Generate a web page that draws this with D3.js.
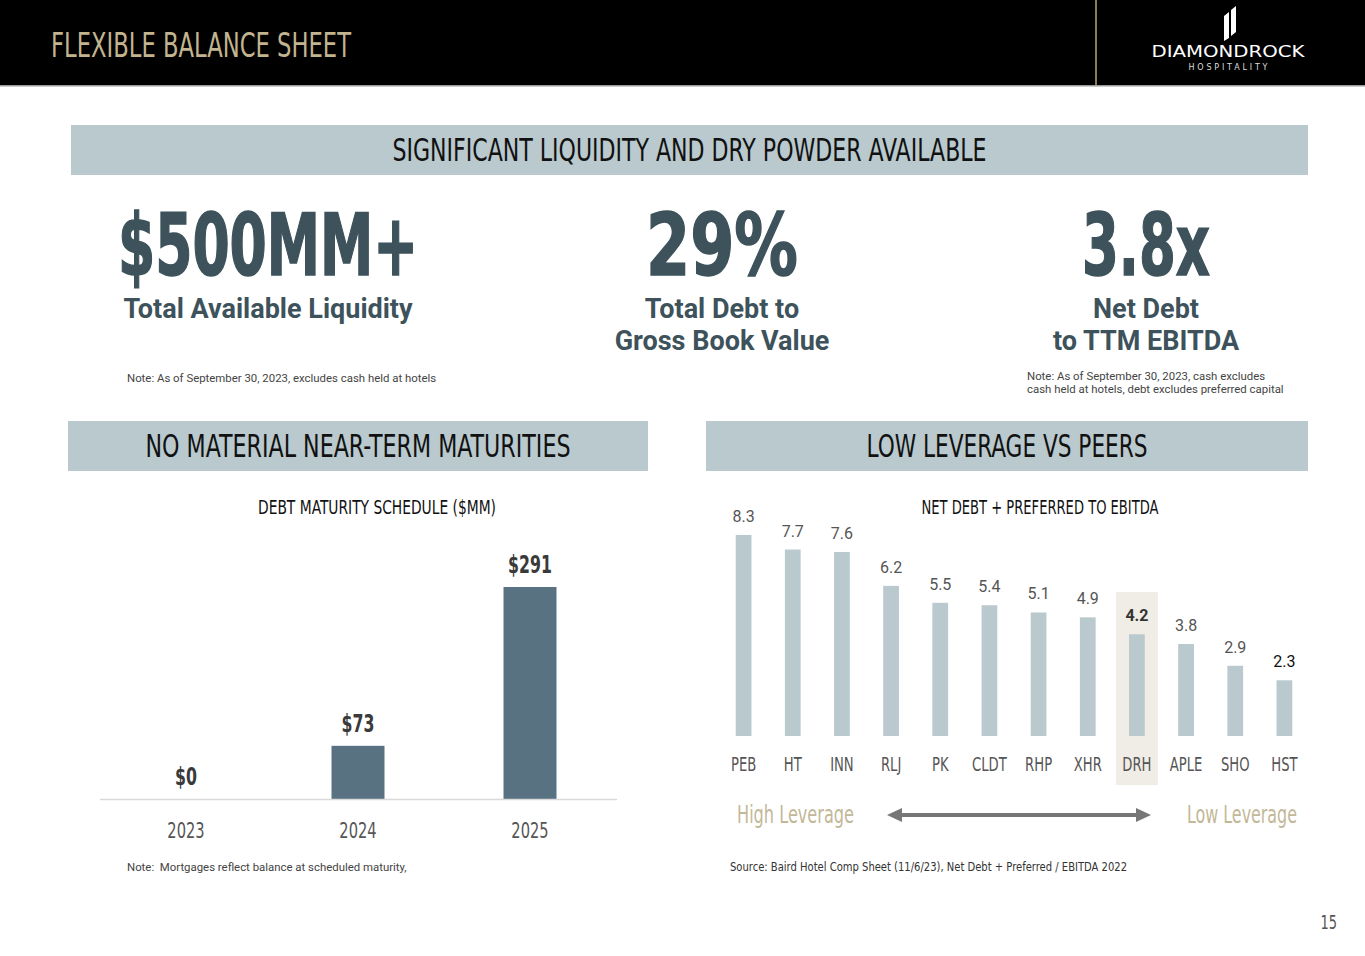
<!DOCTYPE html>
<html>
<head>
<meta charset="utf-8">
<script src="https://cdn.jsdelivr.net/npm/d3@7"></script>
<style>
  html, body { margin: 0; padding: 0; background: #fff; }
  svg { display: block; }
  .cond { font-family: "Liberation Sans Narrow", "DejaVu Sans Condensed", "Roboto", sans-serif; font-stretch: condensed; }
  .rob { font-family: "Roboto", "Liberation Sans", sans-serif; }
</style>
</head>
<body>
<svg id="chart" width="1365" height="956"></svg>
<script>
// ---- Data ----
const maturityYears = ["2023", "2024", "2025"];
const maturityValues = [0, 73, 291];
const maturityLabels = ["$0", "$73", "$291"];

const peerTickers = ["PEB", "HT", "INN", "RLJ", "PK", "CLDT", "RHP", "XHR", "DRH", "APLE", "SHO", "HST"];
const peerValues = [8.3, 7.7, 7.6, 6.2, 5.5, 5.4, 5.1, 4.9, 4.2, 3.8, 2.9, 2.3];
const highlightTicker = "DRH";

const kpiValues = ["$500MM+", "29%", "3.8x"];
const kpiCaptions = [["Total Available Liquidity"], ["Total Debt to", "Gross Book Value"], ["Net Debt", "to TTM EBITDA"]];

// ---- Drawing ----
const svg = d3.select("#chart");
const COND = "cond";

// squeeze text horizontally by a factor (to mimic a condensed typeface)
function squeeze(sel, f) {
  sel.each(function () {
    const w = this.getComputedTextLength();
    d3.select(this).attr("textLength", w * f).attr("lengthAdjust", "spacingAndGlyphs");
  });
  return sel;
}

// Header band
svg.append("rect").attr("x", 0).attr("y", 0).attr("width", 1365).attr("height", 85).attr("fill", "#000");
svg.append("rect").attr("x", 0).attr("y", 85).attr("width", 1365).attr("height", 1.5).attr("fill", "#9a9a9a");
svg.append("rect").attr("x", 1095).attr("y", 0).attr("width", 2).attr("height", 85).attr("fill", "#8a7d5a");
svg.append("text").attr("class", COND).attr("x", 51).attr("y", 57)
  .attr("font-size", 33).attr("fill", "#c2b48f").attr("textLength", 300).attr("lengthAdjust", "spacingAndGlyphs")
  .text("FLEXIBLE BALANCE SHEET");

// Logo
const logo = svg.append("g");
logo.append("path").attr("d", "M1224,16 L1229,12 L1229,38 L1224,41 Z").attr("fill", "#fff");
logo.append("path").attr("d", "M1231,10 L1236,6 L1236,32 L1231,36 Z").attr("fill", "#fff");
logo.append("text").attr("x", 1228).attr("y", 57).attr("text-anchor", "middle")
  .attr("font-family", "DejaVu Sans, sans-serif").attr("font-size", 15).attr("fill", "#fff")
  .attr("textLength", 153).attr("lengthAdjust", "spacingAndGlyphs").text("DIAMONDROCK");
logo.append("text").attr("x", 1228).attr("y", 69.5).attr("text-anchor", "middle")
  .attr("font-family", "DejaVu Sans, sans-serif").attr("font-size", 8).attr("fill", "#ddd")
  .attr("textLength", 79).attr("lengthAdjust", "spacing").text("HOSPITALITY");

// Banners
function banner(x, y, w, h, label, tl) {
  svg.append("rect").attr("x", x).attr("y", y).attr("width", w).attr("height", h).attr("fill", "#b9c9cd");
  svg.append("text").attr("class", COND).attr("x", x + w / 2).attr("y", y + 36)
    .attr("text-anchor", "middle").attr("font-size", 32).attr("fill", "#111")
    .attr("textLength", tl).attr("lengthAdjust", "spacingAndGlyphs").text(label);
}
banner(71, 125, 1237, 50, "SIGNIFICANT LIQUIDITY AND DRY POWDER AVAILABLE", 594);
banner(68, 421, 580, 50, "NO MATERIAL NEAR-TERM MATURITIES", 425);
banner(706, 421, 602, 50, "LOW LEVERAGE VS PEERS", 281);

// KPIs
const kpiX = [268, 722, 1146];
const kpiW = [300, 152, 128];
kpiValues.forEach((v, i) => {
  svg.append("text").attr("class", COND).attr("x", kpiX[i]).attr("y", 275)
    .attr("text-anchor", "middle").attr("font-size", 86).attr("font-weight", "bold").attr("fill", "#3d525b")
    .attr("stroke", "#3d525b").attr("stroke-width", 1.5)
    .attr("textLength", kpiW[i]).attr("lengthAdjust", "spacingAndGlyphs").text(v);
  kpiCaptions[i].forEach((c, j) => {
    svg.append("text").attr("class", "rob").attr("x", kpiX[i]).attr("y", 318 + j * 32)
      .attr("text-anchor", "middle").attr("font-size", 27).attr("font-weight", "bold").attr("fill", "#3d525b").text(c);
  });
});
svg.append("text").attr("class", "rob").attr("x", 127).attr("y", 382).attr("font-size", 11.4).attr("fill", "#444")
  .text("Note: As of September 30, 2023, excludes cash held at hotels");
svg.append("text").attr("class", "rob").attr("x", 1027).attr("y", 380).attr("font-size", 11.4).attr("fill", "#444")
  .text("Note: As of September 30, 2023, cash excludes");
svg.append("text").attr("class", "rob").attr("x", 1027).attr("y", 393).attr("font-size", 11.4).attr("fill", "#444")
  .text("cash held at hotels, debt excludes preferred capital");

// ---- Left chart: debt maturity ----
svg.append("text").attr("class", COND).attr("x", 377).attr("y", 514).attr("text-anchor", "middle")
  .attr("font-size", 20).attr("fill", "#111").attr("textLength", 238).attr("lengthAdjust", "spacingAndGlyphs")
  .text("DEBT MATURITY SCHEDULE ($MM)");

const xL = d3.scaleBand().domain(maturityYears).range([100, 616]).paddingInner(0.692).paddingOuter(0.346);
const yL = d3.scaleLinear().domain([0, 291]).range([799, 587]);

svg.append("g").selectAll("rect").data(maturityYears).join("rect")
  .attr("x", d => xL(d)).attr("width", xL.bandwidth())
  .attr("y", (d, i) => yL(maturityValues[i])).attr("height", (d, i) => yL(0) - yL(maturityValues[i]))
  .attr("fill", "#587282");
svg.append("line").attr("x1", 100).attr("x2", 617).attr("y1", yL(0) + 0.5).attr("y2", yL(0) + 0.5)
  .attr("stroke", "#d9d9d9").attr("stroke-width", 1.5);
squeeze(svg.append("g").selectAll("text").data(maturityYears).join("text").attr("class", COND)
  .attr("x", d => xL(d) + xL.bandwidth() / 2).attr("y", (d, i) => yL(maturityValues[i]) - 14)
  .attr("text-anchor", "middle").attr("font-size", 25).attr("font-weight", "bold").attr("fill", "#3a3a3a")
  .text((d, i) => maturityLabels[i]), 0.7);
const axL = d3.axisBottom(xL).tickSize(0).tickPadding(0);
const gAxL = svg.append("g").attr("transform", `translate(0,${yL(0)})`).call(axL);
gAxL.select(".domain").remove();
squeeze(gAxL.selectAll("text").attr("class", COND).attr("dy", null).attr("y", 39)
  .attr("font-size", 22).attr("fill", "#555"), 0.74);
svg.append("text").attr("class", "rob").attr("x", 127).attr("y", 871).attr("font-size", 11.4).attr("fill", "#444")
  .attr("xml:space", "preserve").text("Note:  Mortgages reflect balance at scheduled maturity,");

// ---- Right chart: peers ----
svg.append("text").attr("class", COND).attr("x", 1040).attr("y", 514).attr("text-anchor", "middle")
  .attr("font-size", 20).attr("fill", "#111").attr("textLength", 237).attr("lengthAdjust", "spacingAndGlyphs")
  .text("NET DEBT + PREFERRED TO EBITDA");

const xR = d3.scaleBand().domain(peerTickers).range([719, 1309]).paddingInner(0.68).paddingOuter(0.34);
const yR = d3.scaleLinear().domain([0, 8.3]).range([736, 535]);
const cx = d => xR(d) + xR.bandwidth() / 2;

svg.append("rect").attr("x", cx(highlightTicker) - 21).attr("width", 42).attr("y", 592).attr("height", 193)
  .attr("fill", "#f0ece6");
svg.append("g").selectAll("rect").data(peerTickers).join("rect")
  .attr("x", d => xR(d)).attr("width", xR.bandwidth())
  .attr("y", (d, i) => yR(peerValues[i])).attr("height", (d, i) => yR(0) - yR(peerValues[i]))
  .attr("fill", "#b9c9cd");
svg.append("g").selectAll("text").data(peerTickers).join("text").attr("class", "rob")
  .attr("x", cx).attr("y", (d, i) => yR(peerValues[i]) - 13)
  .attr("text-anchor", "middle").attr("font-size", 16)
  .attr("font-weight", d => d === highlightTicker ? "bold" : "normal")
  .attr("fill", (d, i) => d === highlightTicker ? "#333" : (i === peerTickers.length - 1 ? "#111" : "#555"))
  .text((d, i) => peerValues[i].toFixed(1));
const axR = d3.axisBottom(xR).tickSize(0).tickPadding(0);
const gAxR = svg.append("g").attr("transform", `translate(0,${yR(0)})`).call(axR);
gAxR.select(".domain").remove();
squeeze(gAxR.selectAll("text").attr("class", COND).attr("dy", null).attr("y", 35)
  .attr("font-size", 19).attr("fill", "#555"), 0.77);

// Leverage legend
svg.append("text").attr("class", COND).attr("x", 737).attr("y", 823).attr("font-size", 25).attr("fill", "#c2b898")
  .attr("textLength", 117).attr("lengthAdjust", "spacingAndGlyphs").text("High Leverage");
svg.append("text").attr("class", COND).attr("x", 1187).attr("y", 823).attr("font-size", 25).attr("fill", "#c2b898")
  .attr("textLength", 110).attr("lengthAdjust", "spacingAndGlyphs").text("Low Leverage");
svg.append("line").attr("x1", 898).attr("x2", 1140).attr("y1", 815).attr("y2", 815)
  .attr("stroke", "#777").attr("stroke-width", 4);
svg.append("path").attr("d", "M887,815 L902,808 L902,822 Z").attr("fill", "#777");
svg.append("path").attr("d", "M1151,815 L1136,808 L1136,822 Z").attr("fill", "#777");

svg.append("text").attr("class", COND).attr("x", 730).attr("y", 871).attr("font-size", 12).attr("fill", "#333")
  .attr("textLength", 397).attr("lengthAdjust", "spacingAndGlyphs")
  .text("Source: Baird Hotel Comp Sheet (11/6/23), Net Debt + Preferred / EBITDA 2022");

squeeze(svg.append("text").attr("class", COND).attr("x", 1337).attr("y", 929).attr("text-anchor", "end")
  .attr("font-size", 20).attr("fill", "#555").text("15"), 0.72);
</script>
</body>
</html>
